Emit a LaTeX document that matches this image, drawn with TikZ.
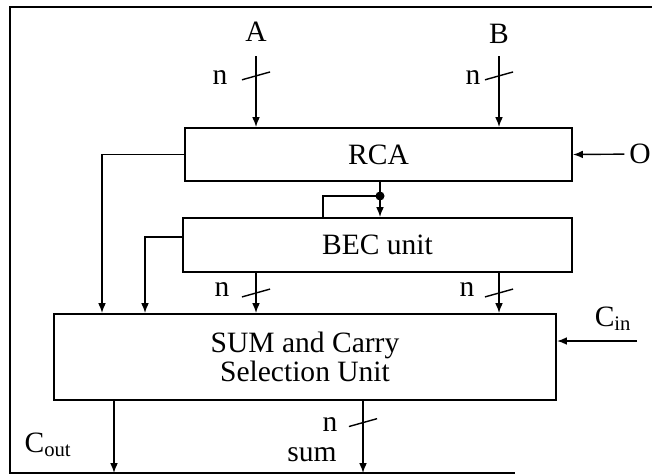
\documentclass[tikz,border=0pt]{standalone}
\usepackage{fontspec}
\setmainfont{Liberation Serif}
\usetikzlibrary{arrows.meta, decorations.markings}

\begin{document}
\begin{tikzpicture}[
  x=0.025cm, y=-0.025cm,
  font=\fontsize{21}{18}\selectfont,
  block/.style={draw, line width=1.4pt, inner sep=0pt, align=center},
  wire/.style={line width=1pt},
  arr/.style={wire, -{Latex[length=7pt, width=5.5pt]}},
  bus/.style={postaction={decorate}, decoration={markings,
    mark=at position #1 with {\draw[wire, -] (2.8pt,-10pt) -- (-2.8pt,10pt);}}}
]
\useasboundingbox (0,0) rectangle (652,475);

% outer frame
\draw[wire] (652,7) -- (10,7) -- (10,473) -- (515,473);

\node[block, minimum width=9.675cm, minimum height=1.325cm] (rca) at (378.5,154.5) {RCA};
\node[block, minimum width=9.725cm, minimum height=1.35cm]  (bec) at (377.5,245)   {BEC unit};
\node[block, minimum width=12.55cm, minimum height=2.15cm]  (sum) at (305,357)     {SUM and Carry\\Selection Unit};

\node (a)    at (256,32)  {A};
\node (b)    at (499,34)  {B};
\node (o)    at (640,154) {O};
\node (cin)  at (613,319) {C\textsubscript{in}};
\node (cout) at (48,445)  {C\textsubscript{out}};
\node (sumlbl) at (312,455) {sum};

\node (na)  at (220,78)  {n};
\node (nb)  at (473,78)  {n};
\node (nbl) at (222,290) {n};
\node (nbr) at (467,290) {n};
\node (ns)  at (330,425) {n};

\coordinate (ain)   at (256,56);
\coordinate (bin)   at (499,56);
\coordinate (dot)   at (380,196);
\coordinate (tap)   at (323,196);
\coordinate (lft1)  at (102,0);
\coordinate (lft2)  at (145,237);
\coordinate (cinw)  at (637,341);
\coordinate (coutw) at (114,473);
\coordinate (sumw)  at (363,473);

\draw[arr, bus=0.28] (ain) -- (ain |- rca.north);
\draw[arr, bus=0.28] (bin) -- (bin |- rca.north);
\draw[arr] (o) -- (rca.east);

\draw[arr] (rca.south -| dot) -- (bec.north -| dot);
\fill (dot) circle (3.2pt);
\draw[wire] (dot) -- (tap) -- (tap |- bec.north);

\draw[arr] (rca.west) -| (lft1 |- sum.north);
\draw[arr] (bec.west |- lft2) -| (lft2 |- sum.north);

\draw[arr, bus=0.5] (bec.south -| ain) -- (sum.north -| ain);
\draw[arr, bus=0.5] (bec.south -| bin) -- (sum.north -| bin);

\draw[arr] (cinw) -- (sum.east |- cinw);
\draw[arr] (sum.south -| coutw) -- (coutw);
\draw[arr, bus=0.3] (sum.south -| sumw) -- (sumw);

\end{tikzpicture}
\end{document}
